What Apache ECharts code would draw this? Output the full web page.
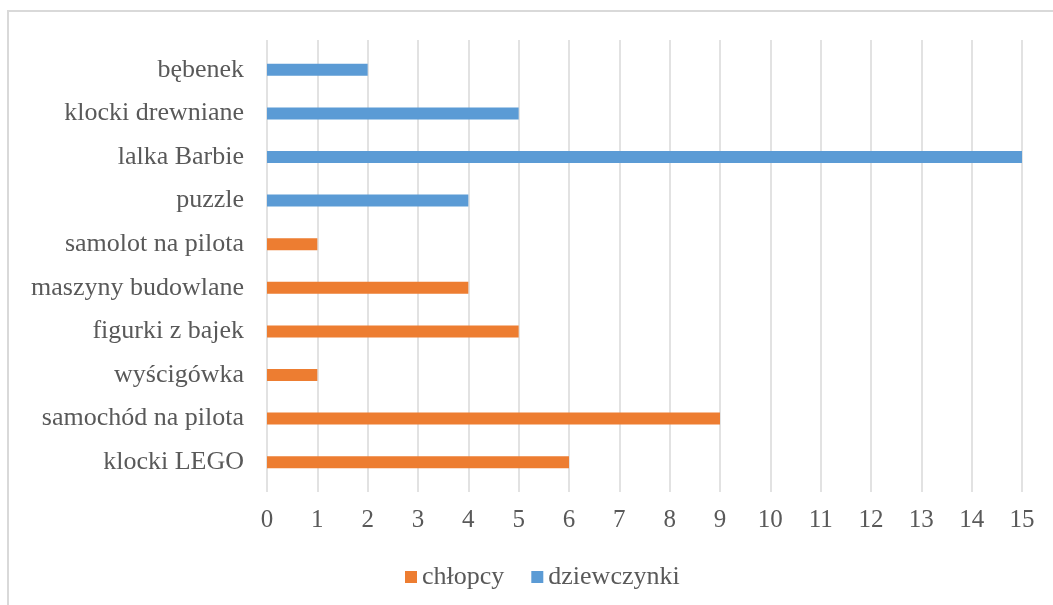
<!DOCTYPE html>
<html>
<head>
<meta charset="utf-8">
<script src="https://cdn.jsdelivr.net/npm/echarts@6/dist/echarts.min.js"></script>
<style>
  html, body { margin: 0; padding: 0; background: #fff; overflow: hidden; }
  #frame { position: absolute; left: 7px; top: 10px; width: 1100px; height: 700px; border: 2px solid #d9d9d9; }
  #main { position: absolute; left: 0; top: 0; width: 1053px; height: 605px; }
</style>
</head>
<body>
<div id="frame"></div>
<div id="main"></div>
<script>
  // kategorie od dołu do góry
  var categories = ['klocki LEGO', 'samochód na pilota', 'wyścigówka', 'figurki z bajek',
    'maszyny budowlane', 'samolot na pilota', 'puzzle', 'lalka Barbie', 'klocki drewniane', 'bębenek'];
  var chlopcy = [6, 9, 1, 5, 4, 1, '-', '-', '-', '-'];
  var dziewczynki = ['-', '-', '-', '-', '-', '-', 4, 15, 5, 2];
  var seriesNames = ['chłopcy', 'dziewczynki'];
  var xTicks = { min: 0, max: 15, interval: 1 };

  var textColor = '#595959';
  var font = 'Liberation Serif';

  var chart = echarts.init(document.getElementById('main'));
  var option = {
    animation: false,
    textStyle: { fontFamily: font },
    color: ['#ED7D31', '#5B9BD5'],
    legend: {
      data: seriesNames,
      left: 400,
      top: 559,
      itemWidth: 12,
      itemHeight: 12,
      itemGap: 27,
      icon: 'rect',
      textStyle: { fontFamily: font, fontSize: 26, color: textColor }
    },
    grid: [
      // słupki
      { left: 267, right: 31, top: 48, height: 436 },
      // linie siatki i etykiety osi X
      { left: 267, right: 31, top: 40, height: 452 }
    ],
    xAxis: [
      {
        gridIndex: 0, type: 'value', min: xTicks.min, max: xTicks.max, interval: xTicks.interval,
        axisLabel: { show: false }, splitLine: { show: false }, axisLine: { show: false }, axisTick: { show: false }
      },
      {
        gridIndex: 1, type: 'value', min: xTicks.min, max: xTicks.max, interval: xTicks.interval,
        axisLine: { show: false }, axisTick: { show: false },
        splitLine: { show: true, lineStyle: { color: '#d9d9d9', width: 1.5 } },
        axisLabel: { fontFamily: font, fontSize: 25, color: textColor, margin: 16 }
      }
    ],
    yAxis: [
      {
        gridIndex: 0, type: 'category', data: categories,
        axisLine: { show: false }, axisTick: { show: false },
        axisLabel: { fontFamily: font, fontSize: 26, color: textColor, margin: 23 }
      },
      {
        gridIndex: 1, type: 'category', data: categories, show: false
      }
    ],
    series: [
      {
        name: seriesNames[0], type: 'bar', stack: 'total', xAxisIndex: 0, yAxisIndex: 0,
        barWidth: 12, data: chlopcy
      },
      {
        name: seriesNames[1], type: 'bar', stack: 'total', xAxisIndex: 0, yAxisIndex: 0,
        barWidth: 12, data: dziewczynki
      }
    ]
  };
  chart.setOption(option);
</script>
</body>
</html>
